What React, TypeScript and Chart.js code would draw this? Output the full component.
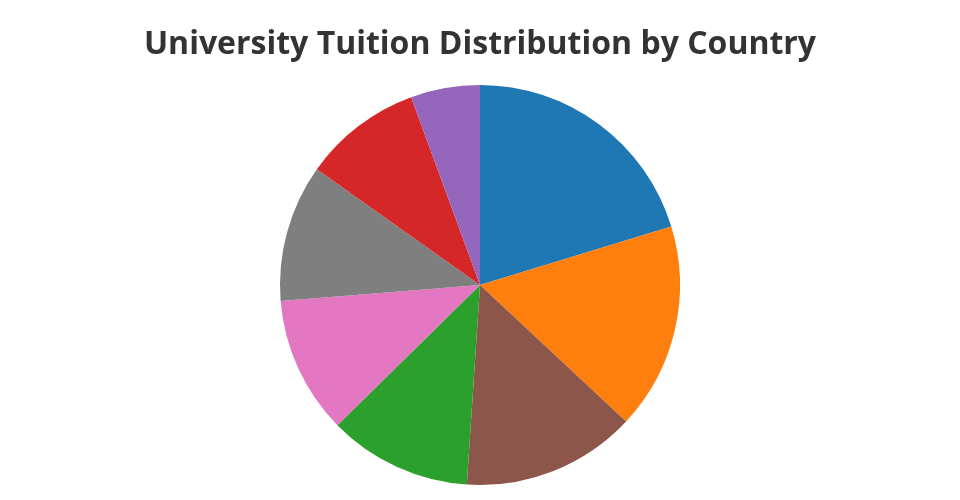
import React, { useEffect, useRef } from "react";
import { Chart, registerables } from "chart.js";

Chart.register(...registerables);

const countries = ["United States", "United Kingdom", "Australia", "Canada", "Germany", "Japan", "South Korea", "Netherlands"];
const tuition = [20.3, 16.7, 11.6, 9.6, 5.6, 14.1, 11.1, 11.1];
const colors = ["#1f77b4", "#ff7f0e", "#2ca02c", "#d62728", "#9467bd", "#8c564b", "#e377c2", "#7f7f7f"];

export default function App() {
  const ref = useRef<HTMLCanvasElement | null>(null);
  useEffect(() => {
    if (!ref.current) return;
    // Plotly-style: sort slices descending, clockwise from top
    const order = tuition.map((v, i) => i).sort((a, b) => tuition[b] - tuition[a]);
    const chart = new Chart(ref.current, {
      type: "pie",
      data: {
        labels: order.map((i) => countries[i]),
        datasets: [
          {
            data: order.map((i) => tuition[i]),
            backgroundColor: order.map((i) => colors[i]),
            borderWidth: 0,
          },
        ],
      },
      options: {
        animation: false,
        responsive: false,
        maintainAspectRatio: false,
        layout: { padding: { bottom: 15 } },
        plugins: {
          legend: { display: false },
          title: {
            display: true,
            text: "University Tuition Distribution by Country",
            color: "#333333",
            font: { family: "'Open Sans'", size: 32, weight: "bold" },
            padding: { top: 25.8, bottom: 20.8 },
          },
        },
      },
    });
    return () => chart.destroy();
  }, []);
  return (
    <div style={{ position: "absolute", left: 0, top: 0, width: 960, height: 500, background: "#fff" }}>
      <canvas ref={ref} width={960} height={500} style={{ width: 960, height: 500, display: "block" }} />
    </div>
  );
}
